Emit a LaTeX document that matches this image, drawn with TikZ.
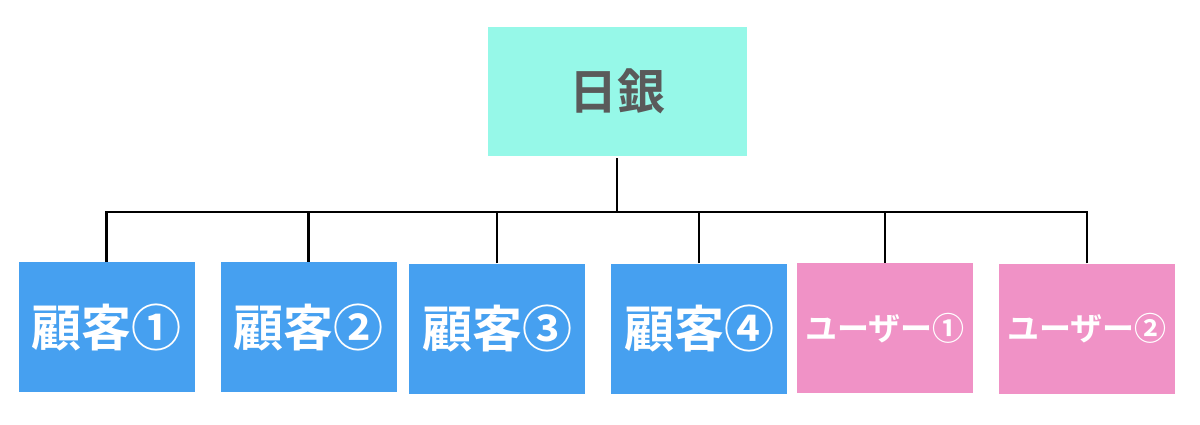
\documentclass[tikz,border=0pt]{standalone}
\usepackage{fontspec}
\setmainfont{Noto Sans CJK JP}[BoldFont={* Bold}]
\definecolor{bojfill}{RGB}{150,248,232}
\definecolor{custfill}{RGB}{70,160,240}
\definecolor{userfill}{RGB}{240,146,198}
\definecolor{bojtext}{RGB}{90,90,90}
\tikzset{
  box/.style={inner sep=0pt, minimum width=176pt, minimum height=130pt, font=\bfseries},
  custbox/.style={box, fill=custfill, text=white, font=\fontsize{50}{56}\selectfont\bfseries},
  userbox/.style={box, fill=userfill, text=white, font=\fontsize{32}{36}\selectfont\bfseries},
  link/.style={draw=black, line width=2.6pt}
}
\begin{document}
\begin{tikzpicture}[x=1pt,y=-1pt]
\useasboundingbox (0,0) rectangle (1200,424);
\fill[white] (0,0) rectangle (1200,424);
\node[inner sep=0pt, minimum width=259pt, minimum height=129pt, fill=bojfill, text=bojtext,
  font=\fontsize{48}{56}\selectfont\bfseries] (boj) at (617.5,91.5) {日銀};
\node[custbox] (c1) at (106.5,327) {顧客①};
\node[custbox] (c2) at (308.5,327) {顧客②};
\node[custbox] (c3) at (497,328.5) {顧客③};
\node[custbox] (c4) at (699,328.5) {顧客④};
\node[userbox] (u1) at (885,328) {ユーザー①};
\node[userbox] (u2) at (1087,328.5) {ユーザー②};
\coordinate (bus) at (617,212);
\draw[link] ([yshift=-2pt]boj.south -| bus) -- (bus);
\draw[link, line cap=rect] (c1.north |- bus) -- (u2.north |- bus);
\foreach \n in {c1,c2,c3,c4,u1,u2} {
  \draw[link] (\n.north) -- (\n.north |- bus);
}
\end{tikzpicture}
\end{document}
